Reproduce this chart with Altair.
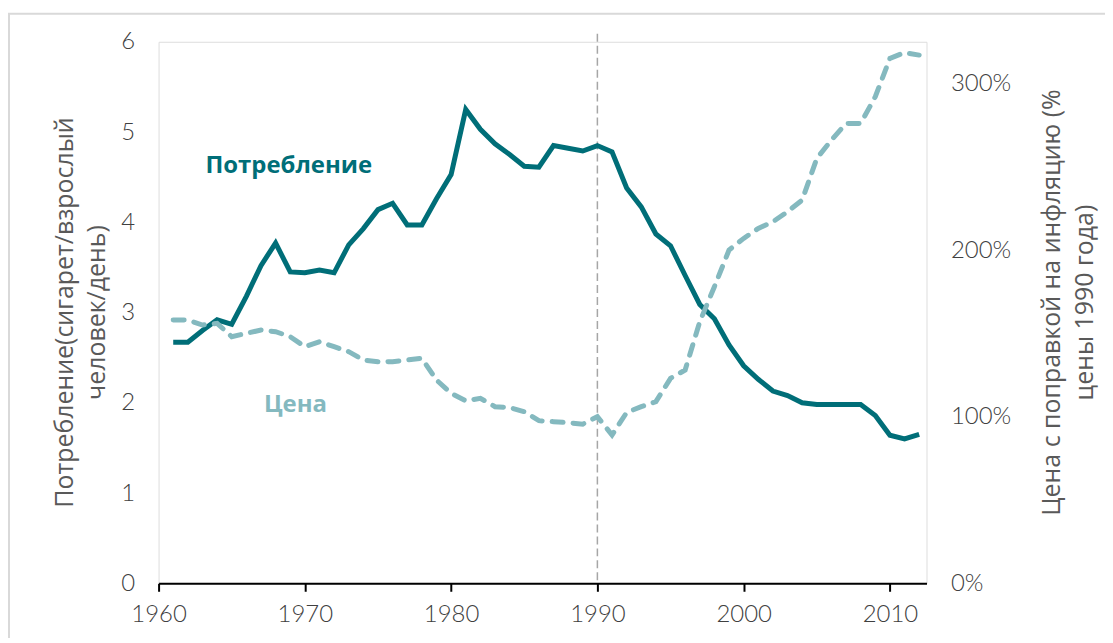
import altair as alt
import pandas as pd

years = list(range(1961, 2013))

consumption = [2.67, 2.67, 2.80, 2.92, 2.87, 3.18, 3.52, 3.77, 3.45, 3.44,
               3.47, 3.44, 3.75, 3.93, 4.14, 4.21, 3.97, 3.97, 4.26, 4.53,
               5.25, 5.03, 4.87, 4.75, 4.62, 4.61, 4.85, 4.82, 4.79, 4.85,
               4.78, 4.38, 4.17, 3.87, 3.74, 3.41, 3.09, 2.93, 2.64, 2.41,
               2.26, 2.13, 2.08, 2.00, 1.98, 1.98, 1.98, 1.98, 1.86, 1.64,
               1.60, 1.65]

price = [158, 158, 155, 156, 148, 150, 152, 151, 148, 142,
         145, 142, 139, 134, 133, 133, 134, 135, 122, 114,
         109.5, 111, 106, 105.5, 103, 97.6, 97, 96.4, 95.5, 100,
         89, 102.5, 106, 109, 123, 128, 157, 178, 200, 207,
         213, 217, 223, 230, 255, 266, 276, 276, 292, 315,
         318.5, 317]

x_ticks = [1960, 1970, 1980, 1990, 2000, 2010]
left_ticks = [0, 1, 2, 3, 4, 5, 6]
right_ticks = [0, 100, 200, 300]

left_title = ["Потребление(сигарет/взрослый", "человек/день)"]
right_title = ["Цена с поправкой на инфляцию (%", "цены 1990 года)"]

label_text = ["Потребление", "Цена"]
label_year = [1963.2, 1967.2]
label_value = [4.55, 1.90]
label_color = ["#006E78", "#84B9BF"]

marker_year = [1990]

cons_df = pd.DataFrame({"year": years, "v": consumption})
price_df = pd.DataFrame({"year": years, "p": price})
cons_label_df = pd.DataFrame({"year": [label_year[0]], "v": [label_value[0]], "t": [label_text[0]]})
price_label_df = pd.DataFrame({"year": [label_year[1]], "v": [label_value[1]], "t": [label_text[1]]})
marker_df = pd.DataFrame({"year": marker_year})
frame_df = pd.DataFrame({"a": [0]})

TICK_FONT = "Lato"
TITLE_FONT = "Open Sans"

x_enc = alt.X(
    "year:Q",
    scale=alt.Scale(domain=[1960, 2012.5], nice=False, zero=False),
    axis=alt.Axis(
        values=x_ticks, format="d", title=None, grid=False,
        domainColor="#000000", domainWidth=2,
        tickColor="#000000", tickWidth=2, tickSize=8,
        labelFont=TICK_FONT, labelFontWeight=300, labelFontSize=24,
        labelColor="#404040", labelPadding=11, labelFlush=False,
    ),
)

y_left = alt.Y(
    "v:Q",
    scale=alt.Scale(domain=[0, 6], nice=False),
    axis=alt.Axis(
        values=left_ticks, format="d", grid=False, domain=False, ticks=False,
        labelFont=TICK_FONT, labelFontWeight=300, labelFontSize=24,
        labelColor="#404040", labelPadding=24,
        title=left_title, titleFont=TITLE_FONT, titleFontSize=25,
        titleFontWeight="normal", titleColor="#595959",
        titleAngle=270, titleX=-86, titleY=271, titleAlign="center",
        titleBaseline="alphabetic", titleLineHeight=32,
    ),
)

y_right = alt.Y(
    "p:Q",
    scale=alt.Scale(domain=[0, 325], nice=False),
    axis=alt.Axis(
        orient="right", values=right_ticks, grid=False, domain=False, ticks=False,
        labelExpr="datum.value + '%'",
        labelFont=TICK_FONT, labelFontWeight=300, labelFontSize=24,
        labelColor="#404040", labelPadding=24,
        title=right_title, titleFont=TITLE_FONT, titleFontSize=25,
        titleFontWeight="normal", titleColor="#595959",
        titleAngle=270, titleX=133, titleY=261, titleAlign="center",
        titleBaseline="alphabetic", titleLineHeight=33,
    ),
)

frame = alt.Chart(frame_df).mark_rect(
    fill=None, stroke="#D9D9D9", strokeWidth=2
).encode(
    x=alt.value(-150), x2=alt.value(980), y=alt.value(-28), y2=alt.value(640)
)

marker = alt.Chart(marker_df).mark_rule(
    color="#A6A6A6", strokeWidth=1.5, strokeDash=[8, 4]
).encode(x=x_enc, y=alt.value(-8), y2=alt.value(543))

cons_line = alt.Chart(cons_df).mark_line(
    color="#006E78", strokeWidth=5
).encode(x=x_enc, y=y_left)

cons_label = alt.Chart(cons_label_df).mark_text(
    align="left", baseline="alphabetic", font=TITLE_FONT, fontSize=24,
    fontWeight="bold", color=label_color[0]
).encode(x=x_enc, y=y_left, text="t:N")

price_label = alt.Chart(price_label_df).mark_text(
    align="left", baseline="alphabetic", font=TITLE_FONT, fontSize=24,
    fontWeight="bold", color=label_color[1]
).encode(x=x_enc, y=y_left, text="t:N")

left_layer = alt.layer(frame, marker, cons_line, cons_label, price_label)

price_line = alt.Chart(price_df).mark_line(
    color="#84B9BF", strokeWidth=5, strokeDash=[11, 10], strokeCap="round"
).encode(x=x_enc, y=y_right)

chart = alt.layer(left_layer, price_line).resolve_scale(
    y="independent"
).properties(
    width=770,
    height=543,
    autosize=alt.AutoSizeParams(type="none"),
    padding={"left": 151, "top": 33, "right": 179, "bottom": 54},
).configure_view(stroke=None).configure(background="white")

chart.save("out.html", embed_options={"renderer": "svg", "actions": False})
